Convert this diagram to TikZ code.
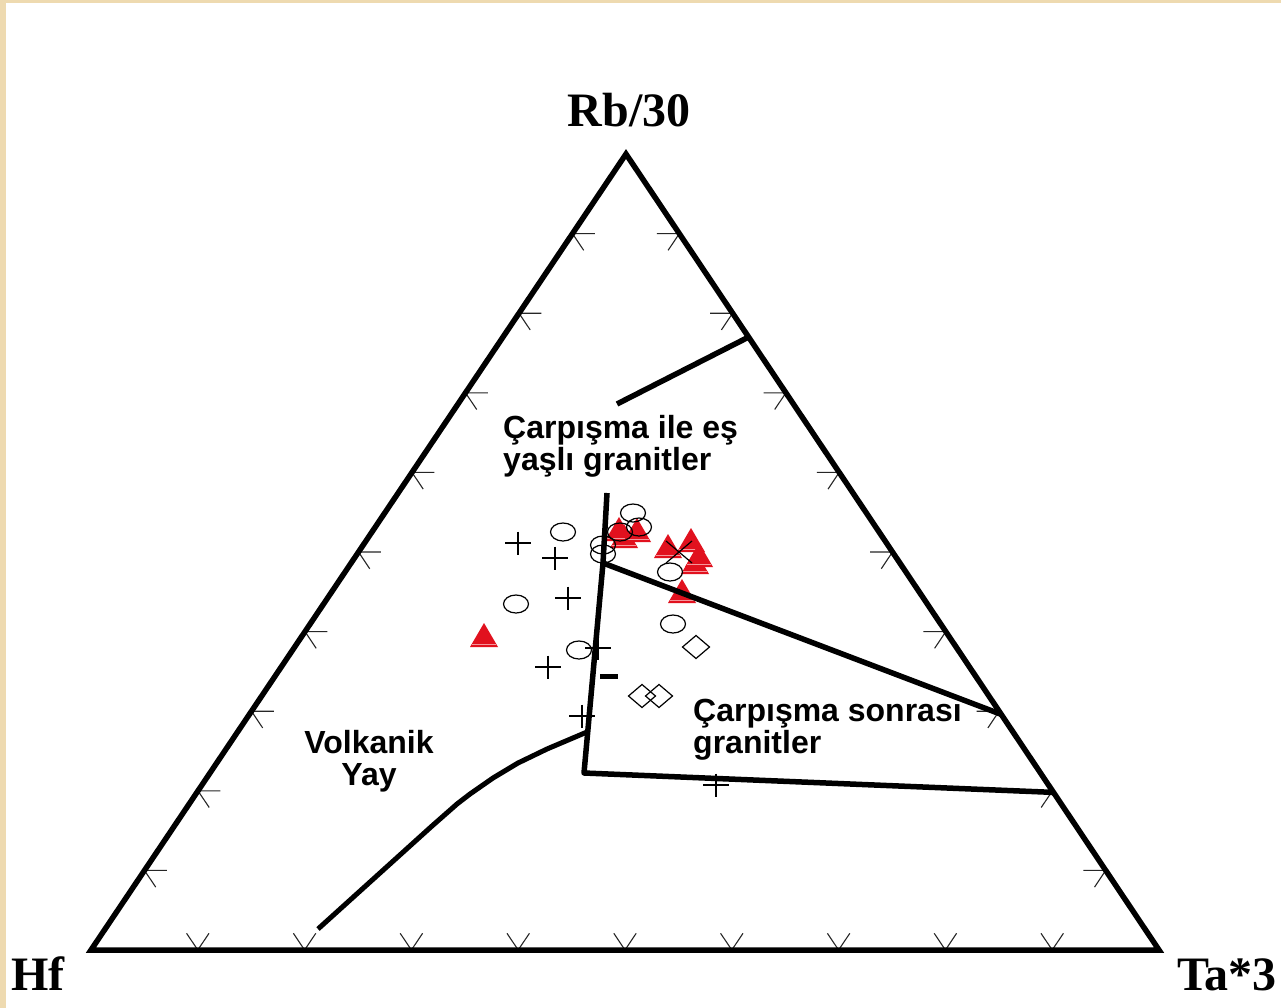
\documentclass[tikz,border=0pt]{standalone}
\usepackage{fontspec}
\usetikzlibrary{calc}
\setmainfont{Liberation Serif}
\newfontfamily\labelsans{Liberation Sans}
\definecolor{tanbg}{RGB}{238,218,176}
\definecolor{redm}{RGB}{225,17,30}
\definecolor{pinkm}{RGB}{245,150,155}
\begin{document}
\begin{tikzpicture}[x=1pt,y=-1pt,
  bnd/.style={line width=5.5pt, line join=round},
  tickl/.style={line width=1.1pt, black!85},
  pmark/.style={line width=1.2pt, black},
  axislabel/.style={inner sep=0pt, font=\bfseries\fontsize{48}{48}\selectfont},
  regionlabel/.style={inner sep=0pt, font=\labelsans\bfseries\fontsize{32}{32}\selectfont},
  plusm/.pic={\draw[pmark] (-13,0) -- (13,0) (0,-11.5) -- (0,11.5);},
  ellm/.pic={\draw[pmark] (0,0) ellipse [x radius=12.5, y radius=9];},
  diam/.pic={\draw[pmark] (-13.5,0) -- (0,-11.5) -- (13.5,0) -- (0,11.5) -- cycle;},
  xm/.pic={\draw[pmark] (-13,-11) -- (13,11) (-13,11) -- (13,-11);},
  trim/.pic={\fill[redm] (-14,0) -- (0,-24) -- (14,0) -- cycle;
             \draw[pinkm, line width=1pt] (-12,-2.6) -- (12,-2.6);}
]
% background
\fill[tanbg] (0,0) rectangle (1281,1008);
\fill[white] (6,3) rectangle (1281,1008);
\useasboundingbox (0,0) rectangle (1281,1008);

% vertices
\coordinate (T) at (626,154);
\coordinate (L) at (91,950);
\coordinate (R) at (1159,950);

% ticks
\foreach \k in {1,...,9}{
  \coordinate (pl) at ($(L)!\k/10!(T)$);
  \coordinate (pr) at ($(R)!\k/10!(T)$);
  \coordinate (pb) at ($(L)!\k/10!(R)$);
  \draw[tickl] (pl) -- ++(22.4,0) (pl) -- ++(11.2,16.7);
  \draw[tickl] (pr) -- ++(-22.4,0) (pr) -- ++(-11.2,16.7);
  \draw[tickl] (pb) -- ++(-11.2,-16.7) (pb) -- ++(11.2,-16.7);
}

% data: triangles
\foreach \p in {(624,548),(619,541),(637,542),(668,558),(691,552),(695,574),(699,567),(682,603),(484,647)}
  \pic at \p {trim};
% data: ellipses
\foreach \p in {(563,532),(516,604),(603,545),(603,554),(620,532),(633,513),(639,527),(670,572),(673,624),(579,650)}
  \pic at \p {ellm};
% data: plus
\foreach \p in {(518,543),(555,558),(568,598),(598,648),(548,667),(582,716),(716,785)}
  \pic at \p {plusm};
% data: diamonds
\foreach \p in {(696,647),(642,696),(659,696)}
  \pic at \p {diam};
% X mark
\pic at (679,552) {xm};
% dash
\draw[line width=5pt] (600,676) -- (618,676);

% boundary lines
\coordinate (a1) at (617,404);
\coordinate (a2) at ($(R)!0.770!(T)$);
\coordinate (b0) at (607,493);
\coordinate (b1) at (603,563);
\coordinate (b2) at (584,773);
\coordinate (c2) at ($(R)!0.296!(T)$);
\coordinate (d2) at ($(R)!0.198!(T)$);
\draw[bnd] (a1) -- (a2);
\draw[bnd] (b0) -- (b1) -- (b2) -- (d2);
\draw[bnd] (b1) -- (c2);
\draw[line width=5pt, line join=round] (587,732) -- (547,749) -- (518,763) -- (493,778) -- (470,794) -- (457,804) -- (432,826) -- (318,929);

% triangle frame
\draw[line width=5.5pt, line join=miter] (L) -- (T) -- (R) -- cycle;

% labels
\node[axislabel, anchor=base] (rb) at (629,127) {Rb/30};
\node[axislabel, anchor=base west] (hf) at (11,990) {Hf};
\node[axislabel, anchor=base east] (ta) at (1277,990) {Ta*3};

\node[regionlabel, anchor=base west] (c1a) at (503,438) {Çarpışma ile eş};
\node[regionlabel, anchor=base west] (c1b) at (503,470) {yaşlı granitler};
\node[regionlabel, anchor=base west] (c2a) at (693,721) {Çarpışma sonrası};
\node[regionlabel, anchor=base west] (c2b) at (693,753) {granitler};
\node[regionlabel, anchor=base] (v1) at (369,753) {Volkanik};
\node[regionlabel, anchor=base] (v2) at (369,785) {Yay};
\end{tikzpicture}
\end{document}
